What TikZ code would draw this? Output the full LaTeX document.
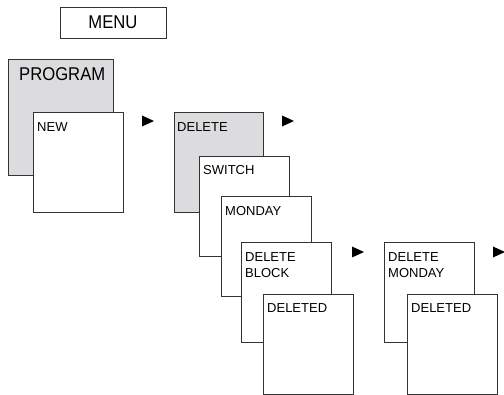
\documentclass[tikz,border=0pt]{standalone}
\usepackage{fontspec}
\setmainfont{Liberation Sans}
\newfontfamily\titlefont[FakeStretch=0.9]{Liberation Sans}
\definecolor{lineg}{HTML}{333333}
\definecolor{fillg}{HTML}{DCDCDE}

\begin{document}
\begin{tikzpicture}
	[
	x=1pt, y=-1pt,
	box/.style={draw=lineg, line width=0.8pt, fill=white, anchor=north west,
		inner sep=0pt, outer sep=0pt, minimum width=90pt, minimum height=100pt},
	greybox/.style={box, fill=fillg},
	lbl/.style={anchor=north west, inner sep=0pt, align=left,
		font=\fontsize{13}{16}\selectfont},
	title/.style={inner sep=0pt, font=\titlefont\fontsize{18.5}{20}\selectfont},
	]
		\useasboundingbox (0,0) rectangle (504,395);
		
		% menu
		\node[box, minimum width=106pt, minimum height=31pt] (menu) at ( 60,   7 ) {};
		\node[title] (menul) at (menu.center) {MENU};
		
		% program / new
		\node[greybox, minimum width=105pt, minimum height=116pt] (prog) at (  8,  59 ) {};
		\node[title, anchor=north west] (progl) at ([shift={(11,8)}]prog.north west) {PROGRAM};
		\node[box] (new) at 		( 33, 112 ) {};
		\node[lbl] (newl) at 		([shift={(4,10)}]new.north west) {NEW};
		
		% delete cascade
		\node[greybox, minimum width=89pt] (del) at ( 174, 112 ) {};
		\node[lbl] (dell) at 		([shift={(3,10)}]del.north west) {DELETE};
		\node[box] (sw) at 		( 199, 156 ) {};
		\node[lbl] (swl) at 		([shift={(4,9)}]sw.north west) {SWITCH};
		\node[box] (mon) at 		( 221, 196 ) {};
		\node[lbl] (monl) at 		([shift={(4,10)}]mon.north west) {MONDAY};
		\node[box] (blk) at 		( 241, 242 ) {};
		\node[lbl] (blkl) at 		([shift={(4,10)}]blk.north west) {DELETE\\BLOCK};
		\node[box] (done) at 		( 263, 294 ) {};
		\node[lbl] (donel) at 		([shift={(4,9)}]done.north west) {DELETED};
		
		% delete monday
		\node[box] (dmon) at 		( 384, 242 ) {};
		\node[lbl] (dmonl) at 		([shift={(4,10)}]dmon.north west) {DELETE\\MONDAY};
		\node[box] (dmdone) at 		( 407, 294 ) {};
		\node[lbl] (dmdonel) at 	([shift={(4,9)}]dmdone.north west) {DELETED};
		
		\foreach \x/\y in {142/121, 282/121, 352/252, 493/252}
			\fill[black] (\x,\y-5.5) -- ++(12,5.5) -- ++(-12,5.5) -- cycle;
		
	\end{tikzpicture}
\end{document}
